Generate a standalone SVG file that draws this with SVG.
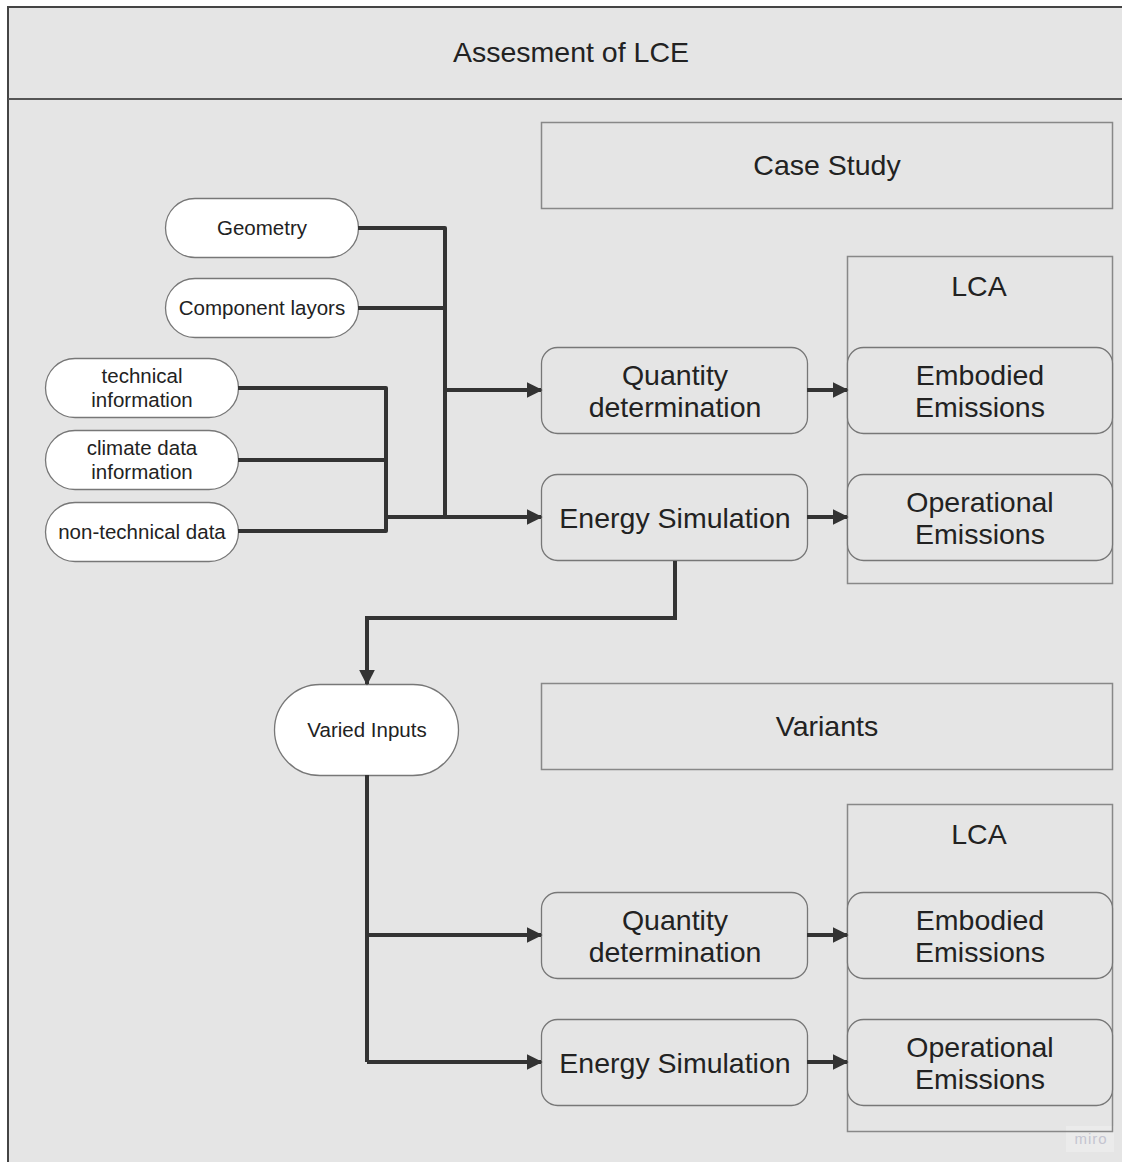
<svg xmlns="http://www.w3.org/2000/svg" width="1122" height="1162" viewBox="0 0 1122 1162">
  <style>
    text { font-family: "Liberation Sans", Arial, sans-serif; fill: #222; text-anchor: middle; }
    .frame { fill: #e5e5e5; stroke: #444; stroke-width: 2; }
    .panel { fill: none; stroke: #888; stroke-width: 1.5; }
    .proc { fill: #e5e5e5; stroke: #777; stroke-width: 1.3; }
    .pill { fill: #fff; stroke: #777; stroke-width: 1.3; }
    .big { font-size: 28.5px; }
    .small { font-size: 20.5px; }
    .wire { fill: none; stroke: #333; stroke-width: 4; stroke-linejoin: round; }
    .arrow { fill: none; stroke: #333; stroke-width: 4; marker-end: url(#head); }
  </style>
  <defs>
    <marker id="head" viewBox="0 0 10 10" refX="9" refY="5" markerWidth="4" markerHeight="4" markerUnits="strokeWidth" orient="auto">
      <path d="M0,0 L10,5 L0,10 z" fill="#333"/>
    </marker>
  </defs>

  <rect width="1122" height="1162" fill="#fff"/>

  <!-- outer swimlane frame with header -->
  <g id="frame">
    <rect class="frame" x="8" y="7" width="1120" height="1165"/>
    <line x1="8" y1="99" x2="1122" y2="99" stroke="#555" stroke-width="2"/>
    <text class="big" x="571" y="62">Assesment of LCE</text>
  </g>

  <!-- watermark, under the containers -->
  <rect x="1066" y="1126" width="48" height="26" fill="#ebebeb"/>
  <text x="1091" y="1144" style="font-size:15px; fill:#c4c4d0; letter-spacing:1px">miro</text>

  <!-- section headers and LCA containers -->
  <g id="case-study">
    <rect class="panel" x="541.5" y="122.5" width="571" height="86"/>
    <text class="big" x="827" y="175">Case Study</text>
  </g>
  <g id="lca-1">
    <rect class="panel" x="847.5" y="256.5" width="265" height="327"/>
    <text class="big" x="979" y="296">LCA</text>
  </g>
  <g id="variants">
    <rect class="panel" x="541.5" y="683.5" width="571" height="86"/>
    <text class="big" x="827" y="736">Variants</text>
  </g>
  <g id="lca-2">
    <rect class="panel" x="847.5" y="804.5" width="265" height="327"/>
    <text class="big" x="979" y="844">LCA</text>
  </g>

  <!-- input pills -->
  <g id="geometry">
    <rect class="pill" x="165.5" y="198.5" width="193" height="59" rx="29.5"/>
    <text class="small" x="262" y="235">Geometry</text>
  </g>
  <g id="component-layors">
    <rect class="pill" x="165.5" y="278.5" width="193" height="59" rx="29.5"/>
    <text class="small" x="262" y="315">Component layors</text>
  </g>
  <g id="technical-information">
    <rect class="pill" x="45.5" y="358.5" width="193" height="59" rx="29.5"/>
    <text class="small" x="142" y="383">technical</text>
    <text class="small" x="142" y="407">information</text>
  </g>
  <g id="climate-data">
    <rect class="pill" x="45.5" y="430.5" width="193" height="59" rx="29.5"/>
    <text class="small" x="142" y="455">climate data</text>
    <text class="small" x="142" y="479">information</text>
  </g>
  <g id="non-technical-data">
    <rect class="pill" x="45.5" y="502.5" width="193" height="59" rx="29.5"/>
    <text class="small" x="142" y="539">non-technical data</text>
  </g>
  <g id="varied-inputs">
    <rect class="pill" x="274.5" y="684.5" width="184" height="91" rx="45.5"/>
    <text class="small" x="367" y="737">Varied Inputs</text>
  </g>

  <!-- case study processes -->
  <g id="quantity-1">
    <rect class="proc" x="541.5" y="347.5" width="266" height="86" rx="16"/>
    <text class="big" x="675" y="385">Quantity</text>
    <text class="big" x="675" y="417">determination</text>
  </g>
  <g id="energy-1">
    <rect class="proc" x="541.5" y="474.5" width="266" height="86" rx="16"/>
    <text class="big" x="675" y="528">Energy Simulation</text>
  </g>
  <g id="embodied-1">
    <rect class="proc" x="847.5" y="347.5" width="265" height="86" rx="16"/>
    <text class="big" x="980" y="385">Embodied</text>
    <text class="big" x="980" y="417">Emissions</text>
  </g>
  <g id="operational-1">
    <rect class="proc" x="847.5" y="474.5" width="265" height="86" rx="16"/>
    <text class="big" x="980" y="512">Operational</text>
    <text class="big" x="980" y="544">Emissions</text>
  </g>

  <!-- variant processes -->
  <g id="quantity-2">
    <rect class="proc" x="541.5" y="892.5" width="266" height="86" rx="16"/>
    <text class="big" x="675" y="930">Quantity</text>
    <text class="big" x="675" y="962">determination</text>
  </g>
  <g id="energy-2">
    <rect class="proc" x="541.5" y="1019.5" width="266" height="86" rx="16"/>
    <text class="big" x="675" y="1073">Energy Simulation</text>
  </g>
  <g id="embodied-2">
    <rect class="proc" x="847.5" y="892.5" width="265" height="86" rx="16"/>
    <text class="big" x="980" y="930">Embodied</text>
    <text class="big" x="980" y="962">Emissions</text>
  </g>
  <g id="operational-2">
    <rect class="proc" x="847.5" y="1019.5" width="265" height="86" rx="16"/>
    <text class="big" x="980" y="1057">Operational</text>
    <text class="big" x="980" y="1089">Emissions</text>
  </g>

  <!-- connectors -->
  <g id="connectors">
    <path class="wire" d="M358,228 H445 V517"/>
    <path class="wire" d="M358,308 H445"/>
    <path class="wire" d="M238,388 H386 V531 H238"/>
    <path class="wire" d="M238,460 H386"/>
    <path class="arrow" d="M445,390 H541"/>
    <path class="arrow" d="M386,517 H541"/>
    <path class="arrow" d="M807,390 H847"/>
    <path class="arrow" d="M807,517 H847"/>
    <path class="arrow" d="M675,561 V618 H367 V684"/>
    <path class="wire" d="M367,775 V1062"/>
    <path class="arrow" d="M367,935 H541"/>
    <path class="arrow" d="M367,1062 H541"/>
    <path class="arrow" d="M807,935 H847"/>
    <path class="arrow" d="M807,1062 H847"/>
  </g>
</svg>
